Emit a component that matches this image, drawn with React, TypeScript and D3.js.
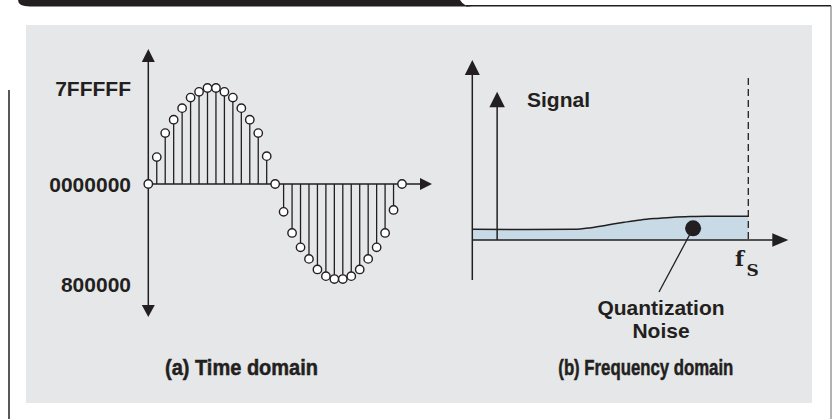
import { useEffect, useRef } from 'react';
import * as d3 from 'd3';

const W = 833;
const H = 419;

// (a) time domain samples, full scale = ±1
const positiveHalf = [0, 0.28, 0.53, 0.67, 0.79, 0.9, 0.96, 1, 1, 0.96, 0.9, 0.79, 0.67, 0.53, 0.29];
const negativeHalf = [0, -0.29, -0.51, -0.66, -0.78, -0.89, -0.96, -0.99, -0.99, -0.96, -0.89, -0.78, -0.66, -0.51, -0.27, 0];
const codeLabels = ['7FFFFF', '0000000', '800000'];
const codeValues = [1, 0, -1.05];

// (b) frequency domain: noise floor, frequency as a fraction of fs
const noiseFreq = [0, 0.2, 0.37, 0.43, 0.49, 0.55, 0.61, 0.67, 0.73, 0.79, 0.85, 0.91, 1];
const noiseLevel = [3.6, 3.5, 3.55, 4.1, 5, 5.9, 6.7, 7.2, 7.6, 7.8, 7.9, 7.9, 7.9];
const signalFreq = 0.09;
const signalLevel = 49.4;

const ink = '#231f20';
const sans = '"Liberation Sans", Arial, Helvetica, sans-serif';
const narrow = '"Liberation Sans Narrow", "Arial Narrow", "Liberation Sans", Arial, sans-serif';

type G = d3.Selection<SVGGElement, unknown, null, undefined>;

// filled triangle with its tip at (x, y)
function arrow(g: G, x: number, y: number, dir: 'up' | 'down' | 'right', len: number, wid: number) {
  const h = wid / 2;
  let pts: [number, number][];
  if (dir === 'up') pts = [[x, y], [x - h, y + len], [x + h, y + len]];
  else if (dir === 'down') pts = [[x, y], [x - h, y - len], [x + h, y - len]];
  else pts = [[x, y], [x - len, y - h], [x - len, y + h]];
  g.append('path').attr('d', `M${pts.map((p) => p.join(',')).join('L')}Z`).attr('fill', ink);
}

function Figure() {
  const ref = useRef<SVGSVGElement | null>(null);

  useEffect(() => {
    const el = ref.current;
    if (!el) return;
    const svg = d3.select(el);
    svg.selectAll('*').remove();
    const root = svg.append('g') as unknown as G;

    // page frame
    root.append('path')
      .attr('d', 'M18,0 H460 Q464,6.5 472,6.5 H30 Q18,6.5 18,0 Z')
      .attr('fill', ink);
    root.append('path').attr('d', 'M466,5.8 H831').attr('stroke', ink).attr('stroke-width', 1.6).attr('fill', 'none');
    root.append('path').attr('d', 'M831,5.8 V419').attr('stroke', '#666').attr('stroke-width', 1).attr('fill', 'none');
    root.append('path').attr('d', 'M9,90 V419').attr('stroke', ink).attr('stroke-width', 1.5).attr('fill', 'none');
    root.append('rect').attr('x', 26).attr('y', 25).attr('width', 786).attr('height', 378).attr('fill', '#e6e7e8');

    // ---------- (a) time domain ----------
    const samples = [...positiveHalf, ...negativeHalf];
    const xt = d3.scaleLinear().domain([0, samples.length - 1]).range([148.3, 402]);
    const yt = d3.scaleLinear().domain([-1, 1]).range([280, 88]);
    const ga = root.append('g') as unknown as G;

    ga.append('line').attr('x1', xt(0)).attr('x2', xt(0)).attr('y1', 60).attr('y2', 306)
      .attr('stroke', ink).attr('stroke-width', 1.5);
    arrow(ga, xt(0), 49, 'up', 13, 13);
    arrow(ga, xt(0), 317, 'down', 12, 13);
    ga.append('line').attr('x1', xt(0)).attr('x2', 422).attr('y1', yt(0)).attr('y2', yt(0))
      .attr('stroke', ink).attr('stroke-width', 1.5);
    arrow(ga, 432, yt(0), 'right', 12, 12);

    ga.selectAll('line.stem')
      .data(samples)
      .join('line')
      .attr('class', 'stem')
      .attr('x1', (_, i) => xt(i))
      .attr('x2', (_, i) => xt(i))
      .attr('y1', yt(0))
      .attr('y2', (d) => yt(d))
      .attr('stroke', ink)
      .attr('stroke-width', 1.3);
    ga.selectAll('circle')
      .data(samples)
      .join('circle')
      .attr('cx', (_, i) => xt(i))
      .attr('cy', (d) => yt(d))
      .attr('r', 4.2)
      .attr('fill', '#fff')
      .attr('stroke', ink)
      .attr('stroke-width', 1.4);

    ga.selectAll('text.code')
      .data(codeLabels)
      .join('text')
      .attr('class', 'code')
      .attr('x', 131)
      .attr('y', (_, i) => yt(codeValues[i]))
      .attr('dy', '0.36em')
      .attr('text-anchor', 'end')
      .attr('font-family', sans)
      .attr('font-weight', 700)
      .attr('font-size', 21)
      .attr('fill', ink)
      .text((d) => d);

    ga.append('text')
      .attr('x', 241.5).attr('y', 375)
      .attr('text-anchor', 'middle')
      .attr('font-family', narrow).attr('font-weight', 700).attr('font-size', 22)
      .attr('textLength', 153).attr('lengthAdjust', 'spacingAndGlyphs')
      .attr('fill', ink).attr('stroke', ink).attr('stroke-width', 0.5)
      .text('(a) Time domain');

    // ---------- (b) frequency domain ----------
    const xf = d3.scaleLinear().domain([0, 1]).range([472.3, 748.3]);
    const yf = d3.scaleLinear().domain([0, 60]).range([240, 60]);
    const gb = root.append('g') as unknown as G;

    const noise = noiseFreq.map((f, i) => [f, noiseLevel[i]] as [number, number]);
    const area = d3.area<[number, number]>()
      .x((d) => xf(d[0])).y0(yf(0)).y1((d) => yf(d[1]))
      .curve(d3.curveMonotoneX);
    const top = d3.line<[number, number]>()
      .x((d) => xf(d[0])).y((d) => yf(d[1]))
      .curve(d3.curveMonotoneX);
    gb.append('path').attr('d', area(noise)).attr('fill', '#c7dae6');
    gb.append('path').attr('d', top(noise)).attr('fill', 'none').attr('stroke', ink).attr('stroke-width', 1.5);

    // fs marker
    gb.append('line').attr('x1', xf(1)).attr('x2', xf(1)).attr('y1', 78).attr('y2', yf(0))
      .attr('stroke', ink).attr('stroke-width', 1.3).attr('stroke-dasharray', '7,4');

    // axes
    gb.append('line').attr('x1', xf(0)).attr('x2', xf(0)).attr('y1', 74).attr('y2', 280)
      .attr('stroke', ink).attr('stroke-width', 1.5);
    arrow(gb, xf(0), 60, 'up', 15, 15);
    gb.append('line').attr('x1', xf(0)).attr('x2', 774).attr('y1', yf(0)).attr('y2', yf(0))
      .attr('stroke', ink).attr('stroke-width', 1.5);
    arrow(gb, 788.3, yf(0), 'right', 16, 13.5);

    // signal tone
    gb.append('line').attr('x1', xf(signalFreq)).attr('x2', xf(signalFreq)).attr('y1', yf(0)).attr('y2', yf(signalLevel) + 14)
      .attr('stroke', ink).attr('stroke-width', 1.5);
    arrow(gb, xf(signalFreq), yf(signalLevel), 'up', 15.5, 15.5);
    gb.append('text')
      .attr('x', 527).attr('y', 107)
      .attr('font-family', sans).attr('font-weight', 700).attr('font-size', 21)
      .attr('fill', ink)
      .text('Signal');

    // quantization noise callout
    gb.append('line').attr('x1', xf(0.8)).attr('y1', yf(3.9)).attr('x2', 659).attr('y2', 292)
      .attr('stroke', ink).attr('stroke-width', 1.3);
    gb.append('circle').attr('cx', xf(0.8)).attr('cy', yf(3.9)).attr('r', 8).attr('fill', ink);
    const q = gb.append('text')
      .attr('text-anchor', 'middle')
      .attr('font-family', sans).attr('font-weight', 700).attr('font-size', 21)
      .attr('fill', ink);
    q.append('tspan').attr('x', 661).attr('y', 315).text('Quantization');
    q.append('tspan').attr('x', 661).attr('y', 338).text('Noise');

    const fs = gb.append('text')
      .attr('font-family', '"DejaVu Serif", "Liberation Serif", serif')
      .attr('font-weight', 700)
      .attr('fill', ink);
    fs.append('tspan').attr('x', 735).attr('y', 266).attr('font-size', 21).text('f');
    fs.append('tspan').attr('x', 746.5).attr('y', 276).attr('font-size', 17).text('S');

    gb.append('text')
      .attr('x', 645.8).attr('y', 375)
      .attr('text-anchor', 'middle')
      .attr('font-family', narrow).attr('font-weight', 700).attr('font-size', 22)
      .attr('textLength', 175).attr('lengthAdjust', 'spacingAndGlyphs')
      .attr('fill', ink).attr('stroke', ink).attr('stroke-width', 0.5)
      .text('(b) Frequency domain');
  }, []);

  return (
    <svg
      ref={ref}
      width={W}
      height={H}
      viewBox={`0 0 ${W} ${H}`}
      style={{ position: 'fixed', left: 0, top: 0, display: 'block', background: '#fff' }}
    />
  );
}

export default function App() {
  return <Figure />;
}
